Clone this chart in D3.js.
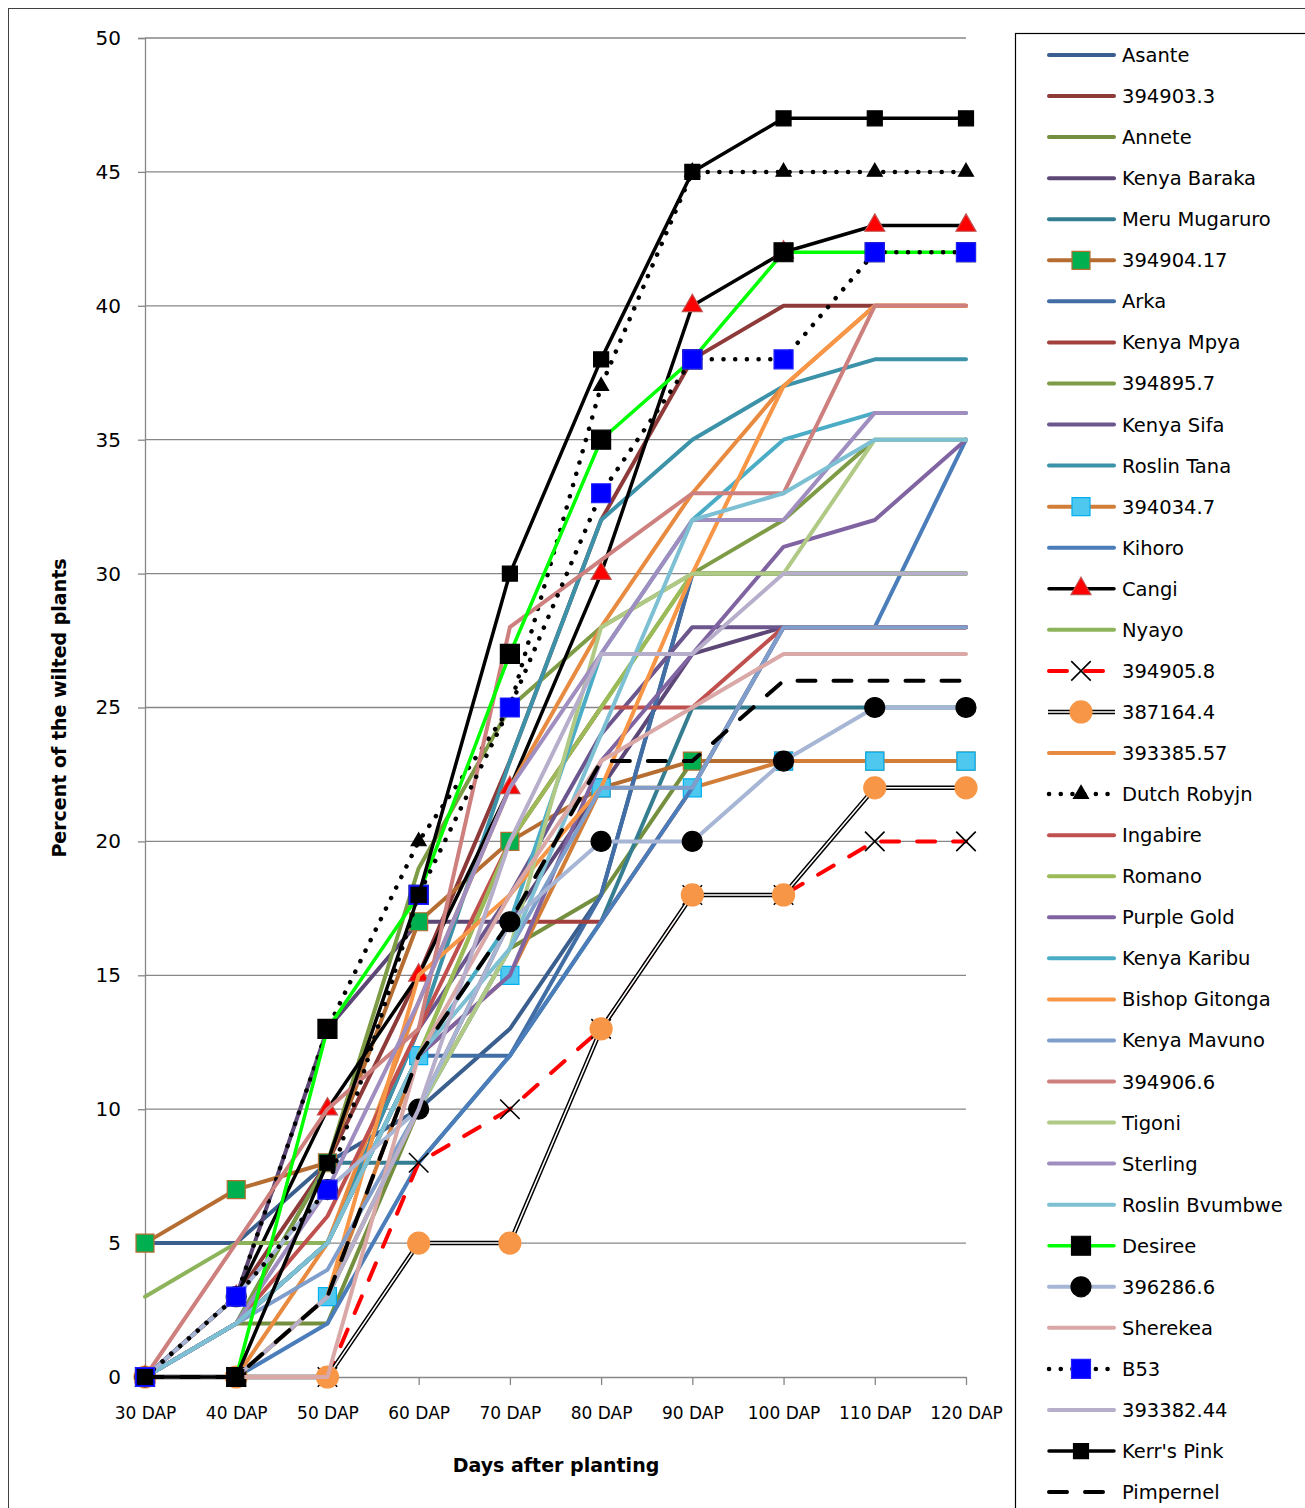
<!DOCTYPE html>
<html>
<head>
<meta charset="utf-8">
<script src="https://cdn.jsdelivr.net/npm/d3@7"></script>
<style>
body { margin: 0; background: #fff; }
svg { display: block; font-family: "DejaVu Sans", sans-serif; }
</style>
</head>
<body>
<div id="chart"></div>
<script>
// categories and tick labels
var days = ["30 DAP", "40 DAP", "50 DAP", "60 DAP", "70 DAP", "80 DAP", "90 DAP", "100 DAP", "110 DAP", "120 DAP"];
var yTicks = [0, 5, 10, 15, 20, 25, 30, 35, 40, 45, 50];

// percent of wilted plants per variety
var asante       = [5, 5, 8, 10, 13, 18, 30, 30, 30, 30];
var v394903_3    = [0, 3, 8, 15, 23, 32, 38, 40, 40, 40];
var annete       = [0, 2, 2, 10, 16, 18, 23, 23, 23, 23];
var kenyaBaraka  = [0, 3, 13, 17, 17, 22, 27, 28, 28, 28];
var meruMugaruro = [0, 2, 8, 8, 12, 17, 25, 25, 25, 25];
var v394904_17   = [5, 7, 8, 17, 20, 22, 23, 23, 23, 23];
var arka         = [0, 2, 5, 12, 12, 18, 30, 30, 30, 30];
var kenyaMpya    = [0, 0, 3, 10, 17, 17, 22, 28, 28, 28];
var v394895_7    = [0, 2, 8, 19, 25, 28, 30, 32, 35, 35];
var kenyaSifa    = [0, 2, 5, 13, 18, 24, 28, 28, 28, 28];
var roslinTana   = [0, 2, 5, 13, 23, 32, 35, 37, 38, 38];
var v394034_7    = [0, 0, 3, 12, 15, 22, 22, 23, 23, 23];
var kihoro       = [0, 0, 2, 8, 12, 17, 22, 28, 28, 35];
var cangi        = [0, 3, 10, 15, 22, 30, 40, 42, 43, 43];
var nyayo        = [3, 5, 5, 12, 20, 25, 30, 30, 30, 30];
var v394905_8    = [0, 0, 0, 8, 10, 13, 18, 18, 20, 20];
var v387164_4    = [0, 0, 0, 5, 5, 13, 18, 18, 22, 22];
var v393385_57   = [0, 0, 5, 14, 22, 28, 33, 37, 40, 40];
var dutchRobyjn  = [0, 3, 13, 20, 25, 37, 45, 45, 45, 45];
var ingabire     = [0, 2, 6, 13, 20, 25, 25, 28, 28, 28];
var romano       = [0, 2, 5, 12, 20, 25, 30, 30, 30, 30];
var purpleGold   = [0, 2, 5, 12, 15, 23, 27, 31, 32, 35];
var kenyaKaribu  = [0, 2, 5, 12, 17, 27, 32, 35, 36, 36];
var bishopGitonga= [0, 0, 3, 15, 18, 22, 30, 37, 40, 40];
var kenyaMavuno  = [0, 2, 4, 10, 16, 22, 22, 28, 28, 28];
var v394906_6    = [0, 5, 10, 13, 28, 30.5, 33, 33, 40, 40];
var tigoni       = [0, 0, 3, 10, 16, 28, 30, 30, 35, 35];
var sterling     = [0, 2, 7, 14, 22, 27, 32, 32, 36, 36];
var roslinBvumbwe= [0, 2, 5, 12, 16, 24, 32, 33, 35, 35];
var desiree      = [0, 0, 13, 18, 27, 35, 38, 42, 42, 42];
var v396286_6    = [0, 3, 7, 10, 17, 20, 20, 23, 25, 25];
var sherekea     = [0, 0, 0, 12, 18, 23, 25, 27, 27, 27];
var b53          = [0, 3, 7, 18, 25, 33, 38, 38, 42, 42];
var v393382_44   = [0, 0, 3, 10, 20, 27, 27, 30, 30, 30];
var kerrsPink    = [0, 0, 8, 18, 30, 38, 45, 47, 47, 47];
var pimpernel    = [0, 0, 3, 12, 17, 23, 23, 26, 26, 26];

var names = ["Asante", "394903.3", "Annete", "Kenya Baraka", "Meru Mugaruro", "394904.17",
  "Arka", "Kenya Mpya", "394895.7", "Kenya Sifa", "Roslin Tana", "394034.7",
  "Kihoro", "Cangi", "Nyayo", "394905.8", "387164.4", "393385.57",
  "Dutch Robyjn", "Ingabire", "Romano", "Purple Gold", "Kenya Karibu", "Bishop Gitonga",
  "Kenya Mavuno", "394906.6", "Tigoni", "Sterling", "Roslin Bvumbwe", "Desiree",
  "396286.6", "Sherekea", "B53", "393382.44", "Kerr's Pink", "Pimpernel"];

var values = [asante, v394903_3, annete, kenyaBaraka, meruMugaruro, v394904_17,
  arka, kenyaMpya, v394895_7, kenyaSifa, roslinTana, v394034_7,
  kihoro, cangi, nyayo, v394905_8, v387164_4, v393385_57,
  dutchRobyjn, ingabire, romano, purpleGold, kenyaKaribu, bishopGitonga,
  kenyaMavuno, v394906_6, tigoni, sterling, roslinBvumbwe, desiree,
  v396286_6, sherekea, b53, v393382_44, kerrsPink, pimpernel];

// line / marker styles, same order as names
var DOT = "0.1,11.6", DASH = "18,18";
var styles = [
  { c: "#3a5f8e" }, { c: "#8e3a38" }, { c: "#74903f" }, { c: "#5c4776" }, { c: "#357d91" },
  { c: "#b66d31", m: "square", mf: "#00b050", ms: "#b66d31", sz: 18 },
  { c: "#426ea6" }, { c: "#a2403e" }, { c: "#7e9b45" }, { c: "#6c568e" }, { c: "#3c92a8" },
  { c: "#d27e39", m: "square", mf: "#4fc8f0", ms: "#00b0f0", sz: 18 },
  { c: "#4a7dba" },
  { c: "#000", w: 3.5, m: "triangle", mf: "#ff0000", ms: "#c0504d", sz: 20 },
  { c: "#8db45a" },
  { c: "#ff0000", dash: DASH, m: "x", mf: "none", ms: "#000", sz: 14 },
  { c: "#000", dbl: true, m: "circle", mf: "#f79646", ms: "#f79646", sz: 22 },
  { c: "#e88b40" },
  { c: "#000", w: 4.5, dash: DOT, m: "triangle", mf: "#000", ms: "#000", sz: 15 },
  { c: "#c0504d" }, { c: "#9bbb59" }, { c: "#8064a2" }, { c: "#4bacc6" }, { c: "#f79646" },
  { c: "#7f9ecb" }, { c: "#cd807e" }, { c: "#b0ca86" }, { c: "#9f8ebf" }, { c: "#7dc0d4" },
  { c: "#00ff00", w: 3.5, m: "square", mf: "#000", ms: "#000", sz: 19 },
  { c: "#a6b6d4", m: "circle", mf: "#000", ms: "#000", sz: 20 },
  { c: "#d9a8a7" },
  { c: "#000", w: 4.5, dash: DOT, m: "square", mf: "#0000ff", ms: "#1f1fff", sz: 19 },
  { c: "#b7aecb" },
  { c: "#000", w: 3.5, m: "square", mf: "#000", ms: "#000", sz: 15 },
  { c: "#000", dash: DASH }
];

var W = 1305, H = 1508;
var svg = d3.select("#chart").append("svg").attr("width", W).attr("height", H);

// chart area border
svg.append("rect").attr("x", 8.5).attr("y", 8.5).attr("width", W + 20).attr("height", H + 20)
  .attr("fill", "none").attr("stroke", "#404040").attr("stroke-width", 1);

var x = d3.scalePoint().domain(days).range([145, 966]).padding(0);
var y = d3.scaleLinear().domain([0, 50]).range([1377, 38]);

// gridlines
svg.append("g").selectAll("line").data(yTicks.filter(function(d) { return d > 0; })).enter()
  .append("line")
  .attr("x1", 145).attr("x2", 966)
  .attr("y1", function(d) { return y(d); }).attr("y2", function(d) { return y(d); })
  .attr("stroke", "#878787").attr("stroke-width", 1.3);

// y axis
var yAxis = svg.append("g").attr("transform", "translate(145,0)")
  .call(d3.axisLeft(y).tickValues(yTicks).tickSize(7).tickPadding(17));
yAxis.select(".domain").attr("stroke", "#878787").attr("stroke-width", 1.3);
yAxis.selectAll(".tick line").attr("stroke", "#878787").attr("stroke-width", 1.3);
yAxis.selectAll("text").attr("font-size", 20).attr("fill", "#000")
  .attr("font-family", "DejaVu Sans");

// x axis
var xAxis = svg.append("g").attr("transform", "translate(0,1377)")
  .call(d3.axisBottom(x).tickSize(8).tickPadding(22).tickSizeOuter(0));
xAxis.select(".domain").attr("stroke", "#878787").attr("stroke-width", 1.3);
xAxis.selectAll(".tick line").attr("stroke", "#878787").attr("stroke-width", 1.3);
xAxis.selectAll("text").attr("font-size", 17).attr("fill", "#000")
  .attr("font-family", "DejaVu Sans");

// axis titles
svg.append("text").attr("x", 556).attr("y", 1472).attr("text-anchor", "middle")
  .attr("font-size", 19).attr("font-weight", "bold").text("Days after planting");
svg.append("text").attr("transform", "translate(66,708) rotate(-90)").attr("text-anchor", "middle")
  .attr("font-size", 19).attr("font-weight", "bold").text("Percent of the wilted plants");

function markerPath(s) {
  var sym = d3.symbol();
  if (s.m === "square") sym.type(d3.symbolSquare).size(s.sz * s.sz);
  else if (s.m === "circle") sym.type(d3.symbolCircle).size(Math.PI * s.sz * s.sz / 4);
  else if (s.m === "triangle") sym.type(d3.symbolTriangle).size(0.433 * s.sz * s.sz);
  else if (s.m === "x") sym.type(d3.symbolX).size(Math.pow(s.sz / 2 / 0.4431, 2));
  return sym();
}

function drawStroke(sel, s) {
  sel.attr("fill", "none")
    .attr("stroke", s.c)
    .attr("stroke-width", s.w || 4)
    .attr("stroke-linejoin", "round")
    .attr("stroke-linecap", "round");
  if (s.dash) sel.attr("stroke-dasharray", s.dash);
}

var line = d3.line()
  .x(function(d, i) { return x(days[i]); })
  .y(function(d) { return y(d); });

var plot = svg.append("g");
values.forEach(function(vals, k) {
  var s = styles[k];
  var g = plot.append("g").attr("class", "series");
  if (s.dbl) {
    g.append("path").attr("d", line(vals)).attr("fill", "none").attr("stroke", "#000")
      .attr("stroke-width", 4.5).attr("stroke-linejoin", "round");
    g.append("path").attr("d", line(vals)).attr("fill", "none").attr("stroke", "#fff")
      .attr("stroke-width", 1.5).attr("stroke-linejoin", "round");
  } else {
    g.append("path").attr("d", line(vals)).call(drawStroke, s);
  }
  if (s.m) {
    g.selectAll(".mk").data(vals).enter().append("path")
      .attr("class", "mk")
      .attr("d", markerPath(s))
      .attr("transform", function(d, i) { return "translate(" + x(days[i]) + "," + y(d) + ")"; })
      .attr("fill", s.mf)
      .attr("stroke", s.ms)
      .attr("stroke-width", s.m === "x" ? 1.6 : 1.2);
  }
});

// legend
var legend = svg.append("g");
legend.append("rect").attr("x", 1015.5).attr("y", 33.5).attr("width", 320).attr("height", 1500)
  .attr("fill", "#fff").attr("stroke", "#000").attr("stroke-width", 1.2);

names.forEach(function(name, k) {
  var s = styles[k];
  var ly = 55 + k * 41.06;
  var row = legend.append("g");
  if (s.dbl) {
    row.append("line").attr("x1", 1048).attr("x2", 1115).attr("y1", ly).attr("y2", ly)
      .attr("stroke", "#000").attr("stroke-width", 4.5);
    row.append("line").attr("x1", 1048).attr("x2", 1115).attr("y1", ly).attr("y2", ly)
      .attr("stroke", "#fff").attr("stroke-width", 1.5);
  } else {
    row.append("line").attr("x1", 1049).attr("x2", 1114).attr("y1", ly).attr("y2", ly)
      .call(drawStroke, s);
  }
  if (s.m) {
    row.append("path").attr("d", markerPath(s))
      .attr("transform", "translate(1081," + ly + ")")
      .attr("fill", s.mf).attr("stroke", s.ms)
      .attr("stroke-width", s.m === "x" ? 1.6 : 1.2);
  }
  row.append("text").attr("x", 1122).attr("y", ly + 7).attr("font-size", 19.5)
    .attr("fill", "#000").text(name);
});
</script>
</body>
</html>
